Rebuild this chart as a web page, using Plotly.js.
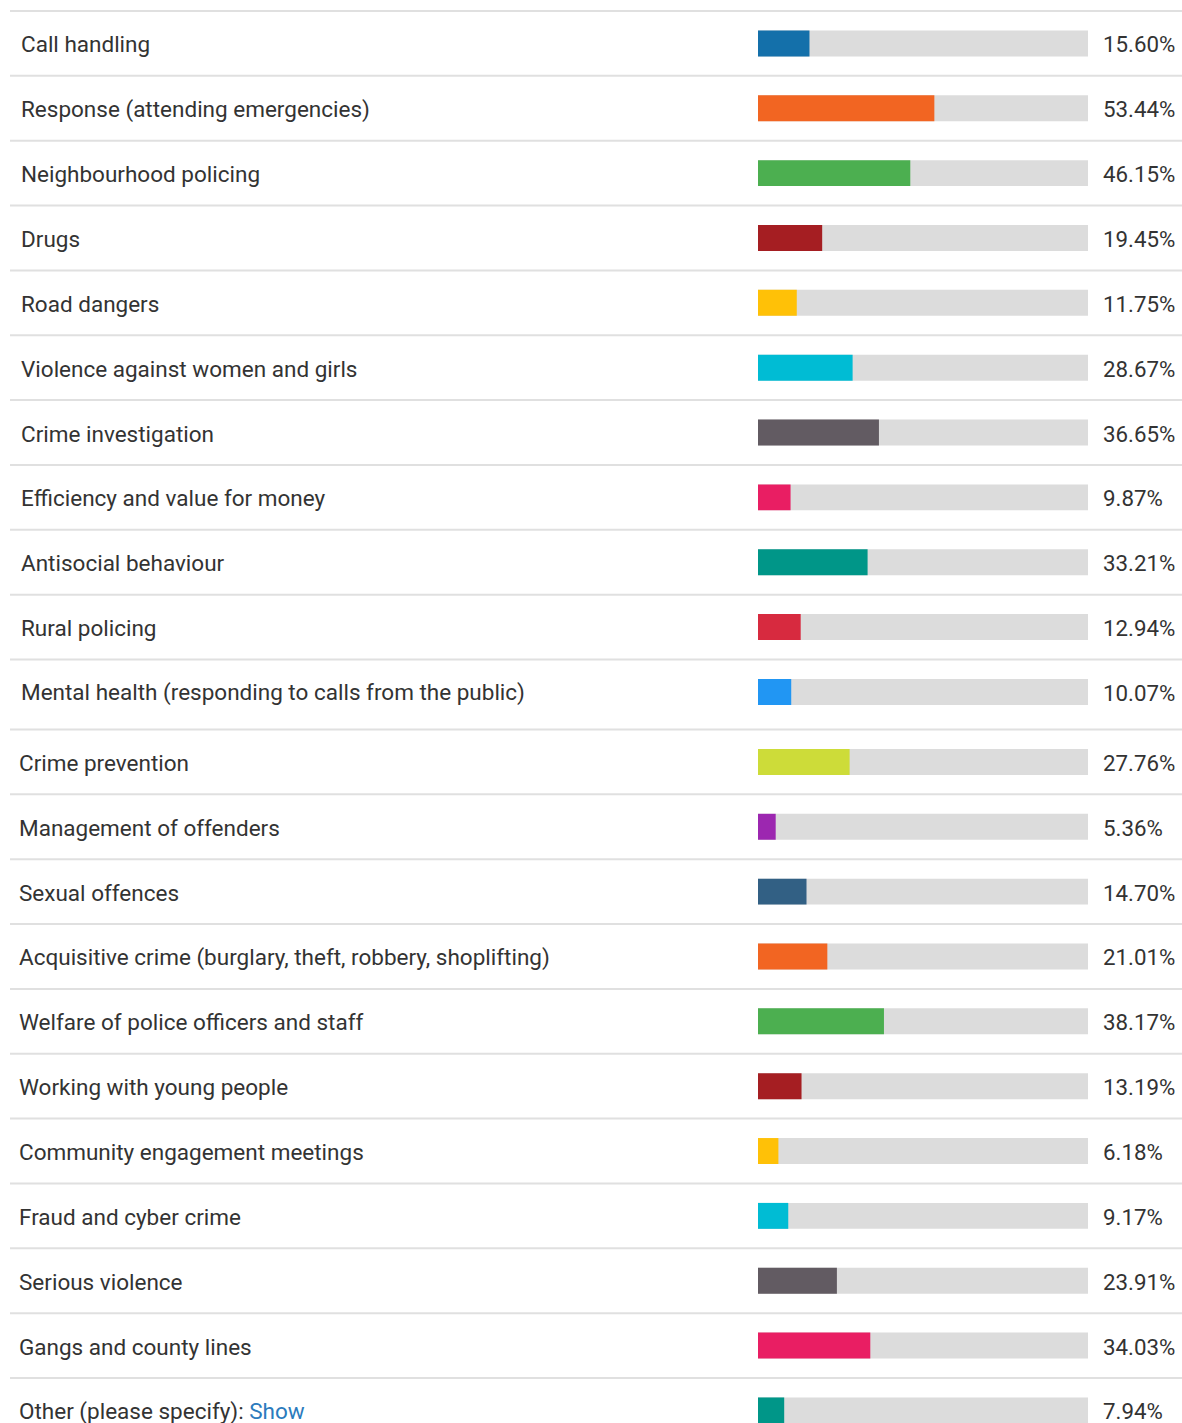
<!DOCTYPE html>
<html>
<head>
<meta charset="utf-8">
<script src="https://cdn.plot.ly/plotly-3.0.1.min.js"></script>
<style>
  html, body { margin: 0; padding: 0; background: #ffffff; }
  #chart { width: 1182px; height: 1423px; }
</style>
</head>
<body>
<div id="chart"></div>
<script>
// ---------- data ----------
const categories = [
  "Call handling",
  "Response (attending emergencies)",
  "Neighbourhood policing",
  "Drugs",
  "Road dangers",
  "Violence against women and girls",
  "Crime investigation",
  "Efficiency and value for money",
  "Antisocial behaviour",
  "Rural policing",
  "Mental health (responding to calls from the public)",
  "Crime prevention",
  "Management of offenders",
  "Sexual offences",
  "Acquisitive crime (burglary, theft, robbery, shoplifting)",
  "Welfare of police officers and staff",
  "Working with young people",
  "Community engagement meetings",
  "Fraud and cyber crime",
  "Serious violence",
  "Gangs and county lines",
  "Other (please specify)"
];
const values = [15.60, 53.44, 46.15, 19.45, 11.75, 28.67, 36.65, 9.87, 33.21, 12.94, 10.07,
                27.76, 5.36, 14.70, 21.01, 38.17, 13.19, 6.18, 9.17, 23.91, 34.03, 7.94];
const colors = ["#1470aa", "#f26522", "#4caf50", "#a51e22", "#ffc107", "#00bcd4", "#625b62",
                "#e91e63", "#009688", "#d72a3f", "#2196f3", "#cddc39", "#9c27b0", "#326084",
                "#f26522", "#4caf50", "#a51e22", "#ffc107", "#00bcd4", "#625b62", "#e91e63", "#009688"];
const linkText = "Show";
const fullScale = 100;

// ---------- layout helpers ----------
const W = 1182, H = 1423;
const rowH = 64.85;
const block1Top = 11, block2Top = 729.5;
const split = 11;
const py = p => 1 - p / H;
const px = p => p / W;

const blocks = [
  { axis: "y",  cats: categories.slice(0, split), vals: values.slice(0, split), cols: colors.slice(0, split), top: block1Top, labelX: 19, valX: 1101 },
  { axis: "y2", cats: categories.slice(split),    vals: values.slice(split),    cols: colors.slice(split),    top: block2Top, labelX: 17, valX: 1101 }
];

const traces = [];
const annotations = [];
const shapes = [];
const textColor = "#333333";
const fontFam = "Roboto, 'Noto Sans', Arial, sans-serif";

blocks.forEach(b => {
  traces.push({
    type: "bar", orientation: "h", xaxis: "x", yaxis: b.axis,
    y: b.cats, x: b.cats.map(() => fullScale),
    marker: { color: "#dcdcdc" }, width: 0.4,
    hoverinfo: "skip", showlegend: false
  });
  traces.push({
    type: "bar", orientation: "h", xaxis: "x", yaxis: b.axis,
    y: b.cats, x: b.vals,
    marker: { color: b.cols }, width: 0.4,
    hovertemplate: "%{y}: %{x:.2f}%<extra></extra>", showlegend: false
  });
  b.cats.forEach((c, i) => {
    const isOther = c.startsWith("Other");
    annotations.push({
      xref: "paper", yref: b.axis, x: px(b.labelX), y: c, yshift: -1,
      xanchor: "left", yanchor: "middle", showarrow: false,
      text: isOther ? c + ': <span style="color:#2b7bbd">' + linkText + '</span>' : c,
      font: { family: fontFam, size: 22.5, color: textColor }
    });
    annotations.push({
      xref: "paper", yref: b.axis, x: px(b.valX), y: c, yshift: -1,
      xanchor: "left", yanchor: "middle", showarrow: false,
      text: b.vals[i].toFixed(2) + "%",
      font: { family: fontFam, size: 22.3, color: textColor }
    });
    const ly = b.top + i * rowH;
    shapes.push({
      type: "line", xref: "paper", yref: "paper",
      x0: px(10), x1: 1, y0: py(ly), y1: py(ly),
      line: { color: "#e0e0e0", width: 2 }
    });
  });
});

const block2Rows = (H - block2Top) / rowH;

const layout = {
  width: W, height: H,
  margin: { l: 0, r: 0, t: 0, b: 0 },
  paper_bgcolor: "#ffffff", plot_bgcolor: "#ffffff",
  barmode: "overlay",
  showlegend: false,
  font: { family: fontFam, color: textColor },
  xaxis: { domain: [px(758), px(1088)], range: [0, fullScale], visible: false, fixedrange: true },
  yaxis: {
    type: "category", anchor: "x",
    domain: [py(block1Top + split * rowH), py(block1Top)],
    range: [split - 0.5, -0.5], visible: false, fixedrange: true
  },
  yaxis2: {
    type: "category", anchor: "x",
    domain: [0, py(block2Top)],
    range: [block2Rows - 0.5, -0.5], visible: false, fixedrange: true
  },
  annotations: annotations,
  shapes: shapes
};

Plotly.newPlot("chart", traces, layout, { displayModeBar: false });
</script>
</body>
</html>
